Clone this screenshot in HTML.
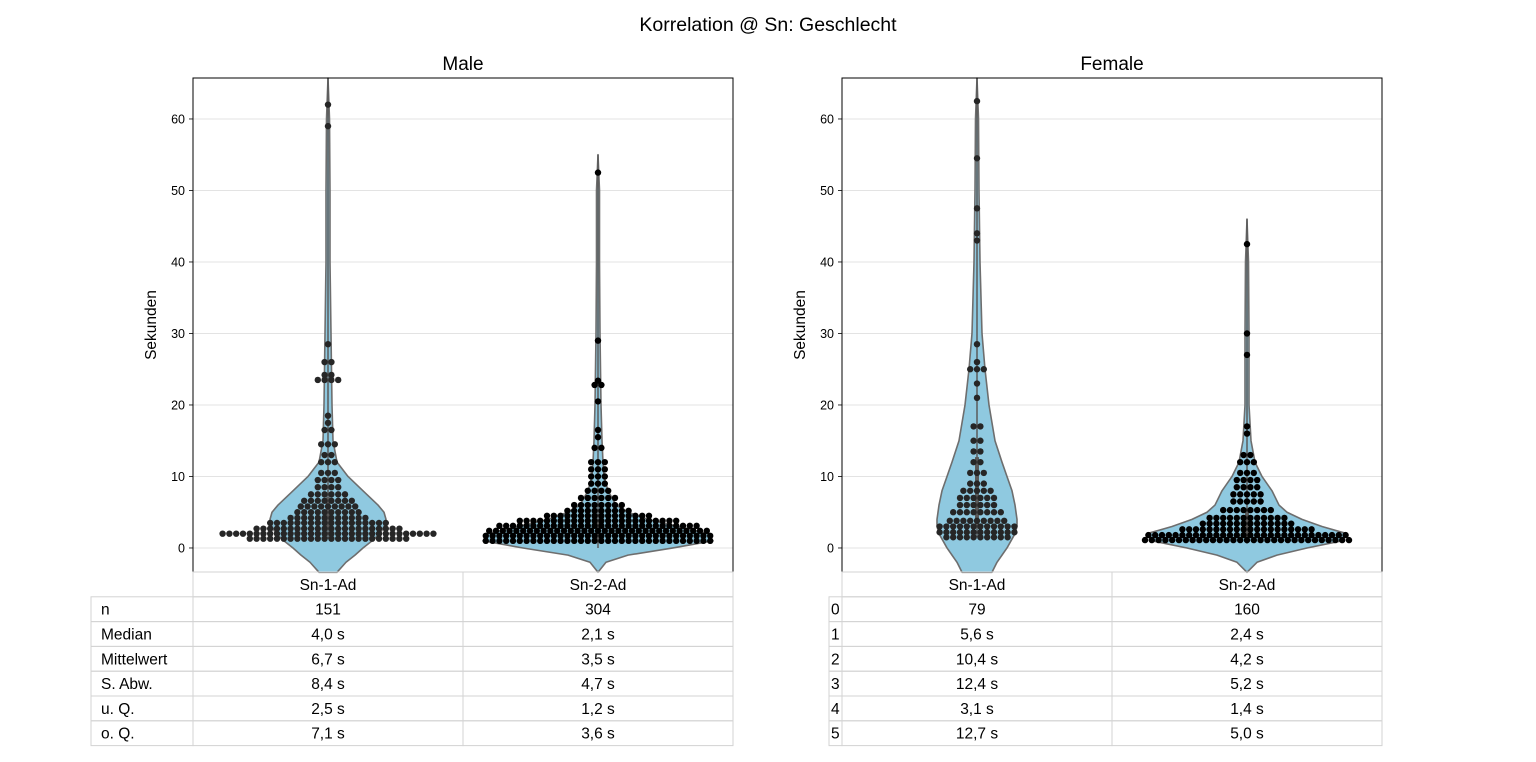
<!DOCTYPE html>
<html><head><meta charset="utf-8"><style>
body{margin:0;background:#fff;}
svg{display:block;font-family:"Liberation Sans","DejaVu Sans",sans-serif;}
</style></head><body>
<svg id="chart" width="1536" height="762" viewBox="0 0 1536 762" xmlns="http://www.w3.org/2000/svg">
<rect width="1536" height="762" fill="#fff"/>
<text x="768" y="31" text-anchor="middle" font-size="19.5">Korrelation @ Sn: Geschlecht</text>
<g id="plots"></g>
</svg>
<script>
// ---- data ----
const categories = ["Sn-1-Ad","Sn-2-Ad"];
const panelTitles = ["Male","Female"];
const yTicks = [0,10,20,30,40,50,60];
const violinGrid = [-3.4,-2,-1,0,1,2,3,4,5,6,8,10,12,15,20,25,30,40,50,60,66];
const violinMaleSn1 = [9,18,27,35,44,52,56,58,56,50,35,20,9,5,4,3.5,3,2,2,1.5,1];
const violinMaleSn2 = [0,8,30,75,115,110,80,50,30,18,10,6,5,4,3,2.5,2,1.5,1.5,0,0];
const violinFemaleSn1 = [15,20,25,30,34,38,40,40,39,38,35,30,25,18,12,8,5,3,2,1.5,1];
const violinFemaleSn2 = [0,10,30,60,95,100,75,55,40,32,25,15,8,4,2,2,2,1.5,0,0,0];
const swarmMaleSn1 = [[1.3,24],[2.0,32],[2.7,22],[3.5,18],[4.2,12],[5.0,10],[5.8,9],[6.6,8],[7.5,6],[8.5,4],[9.5,4],[10.5,3],[12,3],[13,2],[14.5,3],[16.5,2],[17.5,1],[18.5,1],[23.5,4],[24.2,2],[26,2],[28.5,1],[59,1],[62,1]];
const swarmMaleSn2 = [[1.0,34],[1.7,34],[2.4,33],[3.1,30],[3.8,24],[4.5,16],[5.2,10],[6.0,8],[7.0,6],[8.0,4],[9,3],[10,3],[11,3],[12,3],[14,2],[15.5,1],[16.5,1],[20.5,1],[22.8,2],[23.4,1],[29,1],[52.5,1]];
const swarmFemaleSn1 = [[1.5,10],[2.2,12],[3.0,12],[3.8,9],[5,8],[6,6],[7,6],[8,5],[9,3],[10.5,3],[12,2],[13.5,2],[15,2],[17,2],[21,1],[23,1],[25,3],[26,1],[28.5,1],[43,1],[44,1],[47.5,1],[54.5,1],[62.5,1]];
const swarmFemaleSn2 = [[1.1,31],[1.8,30],[2.6,20],[3.4,14],[4.2,12],[5.3,8],[6.5,5],[7.5,5],[8.5,4],[9.5,4],[10.5,3],[12,3],[13,2],[16,1],[17,1],[27,1],[30,1],[42.5,1]];
const boxMale = [[2.5,7.1,1.3,66],[1.2,3.6,0,55]];
const boxFemale = [[3.1,12.7,1.5,66],[1.4,5.0,0.6,46]];
const rowLabelsMale = ["n","Median","Mittelwert","S. Abw.","u. Q.","o. Q."];
const rowLabelsFemale = ["0","1","2","3","4","5"];
const tableMale = [["151","304"],["4,0 s","2,1 s"],["6,7 s","3,5 s"],["8,4 s","4,7 s"],["2,5 s","1,2 s"],["7,1 s","3,6 s"]];
const tableFemale = [["79","160"],["5,6 s","2,4 s"],["10,4 s","4,2 s"],["12,4 s","5,2 s"],["3,1 s","1,4 s"],["12,7 s","5,0 s"]];

// ---- drawing ----
const NS="http://www.w3.org/2000/svg";
const root=document.getElementById('plots');
const top0=78,bot0=572,yMin=-3.36,yMax=65.73;
function yS(v){return bot0-(v-yMin)/(yMax-yMin)*(bot0-top0);}
function mk(tag,attrs,parent){const e=document.createElementNS(NS,tag);for(const k in attrs)e.setAttribute(k,attrs[k]);(parent||root).appendChild(e);return e;}

const panels=[
 {x0:193,title:panelTitles[0],viol:[violinMaleSn1,violinMaleSn2],sw:[swarmMaleSn1,swarmMaleSn2],box:boxMale,labels:rowLabelsMale,tab:tableMale,labX0:91,labPad:10,name:'male'},
 {x0:842,title:panelTitles[1],viol:[violinFemaleSn1,violinFemaleSn2],sw:[swarmFemaleSn1,swarmFemaleSn2],box:boxFemale,labels:rowLabelsFemale,tab:tableFemale,labX0:829,labPad:2,name:'female'}
];
const W=540,catW=270;
panels.forEach(p=>{
  const g=mk('g',{});
  
  
  const xC=i=>p.x0+catW*(i+0.5);
  yTicks.forEach(t=>{
    const y=yS(t);
    const l=mk('line',{x1:p.x0,x2:p.x0+W,y1:y,y2:y,stroke:'#e3e3e3','stroke-width':1},g);
    
    
    mk('line',{x1:p.x0-4,x2:p.x0,y1:y,y2:y,stroke:'#000','stroke-width':0.8},g);
    const tx=mk('text',{x:p.x0-8,y:y+4.5,'text-anchor':'end','font-size':12.5},g);
    tx.textContent=t;
    
    
  });
  p.viol.forEach((hw,i)=>{
    const c=xC(i);const b=p.box[i];
    const pts=[];
    violinGrid.forEach((v,k)=>{ if(v<b[3] && (hw[k]>0 || v<0)) pts.push([v,hw[k]]); });
    pts.push([Math.min(b[3],yMax),0]);
    let d='';
    pts.forEach((q,k)=>{d+=(k?'L':'M')+(c+q[1])+','+yS(q[0])+' ';});
    for(let k=pts.length-1;k>=0;k--)d+='L'+(c-pts[k][1])+','+yS(pts[k][0])+' ';
    d+='Z';
    const pa=mk('path',{d:d,fill:'#8fc9e0',stroke:'#6e6e6e','stroke-width':1.6,'stroke-linejoin':'round'},g);
    
    
    mk('line',{x1:c,x2:c,y1:yS(b[2]),y2:yS(Math.min(b[3],yMax)),stroke:'#5a5a5a','stroke-width':1.5},g);
    mk('line',{x1:c,x2:c,y1:yS(b[0]),y2:yS(b[1]),stroke:'#5a5a5a','stroke-width':4},g);
  });
  p.sw.forEach((rows,i)=>{
    const c=xC(i),sp=6.8;
    const gs=mk('g',{fill:i==0?'#262626':'#000'},g);
    
    
    rows.forEach(r=>{
      const n=r[1],y=yS(r[0]);
      for(let k=0;k<n;k++){
        const off=(k-(n-1)/2)*sp;
        const ci=mk('circle',{cx:c+off,cy:y,r:3.2},gs);
        
        
      }
    });
  });
  mk('rect',{x:p.x0,y:top0,width:W,height:bot0-top0,fill:'none',stroke:'#000','stroke-width':1},g);
  const tt=mk('text',{x:p.x0+W/2,y:70,'text-anchor':'middle','font-size':19},g);
  tt.textContent=p.title;
  
  
  const yl=mk('text',{x:0,y:0,'text-anchor':'middle','font-size':15.5,transform:`translate(${p.x0-37},${(top0+bot0)/2}) rotate(-90)`},g);
  yl.textContent='Sekunden';
  
  
  const rh=24.8,t0=572;
  const tg=mk('g',{},g);
  
  
  const bs={fill:'none',stroke:'#d3d3d3','stroke-width':1};
  categories.forEach((cat,i)=>{
    mk('rect',Object.assign({x:p.x0+catW*i,y:t0,width:catW,height:rh},bs),tg);
    const h=mk('text',{x:xC(i),y:t0+rh/2+5.5,'text-anchor':'middle','font-size':15.5},tg);
    h.textContent=cat;
    
    
  });
  p.labels.forEach((lab,r)=>{
    const y=t0+rh*(r+1);
    mk('rect',Object.assign({x:p.labX0,y:y,width:p.x0-p.labX0,height:rh},bs),tg);
    const lt=mk('text',{x:p.labX0+p.labPad,y:y+rh/2+5.5,'font-size':15.5},tg);
    lt.textContent=lab;
    
    
    p.tab[r].forEach((val,i)=>{
      mk('rect',Object.assign({x:p.x0+catW*i,y:y,width:catW,height:rh},bs),tg);
      const vt=mk('text',{x:xC(i),y:y+rh/2+5.5,'text-anchor':'middle','font-size':15.5},tg);
      vt.textContent=val;
      
      
    });
  });
});
</script>
</body></html>
